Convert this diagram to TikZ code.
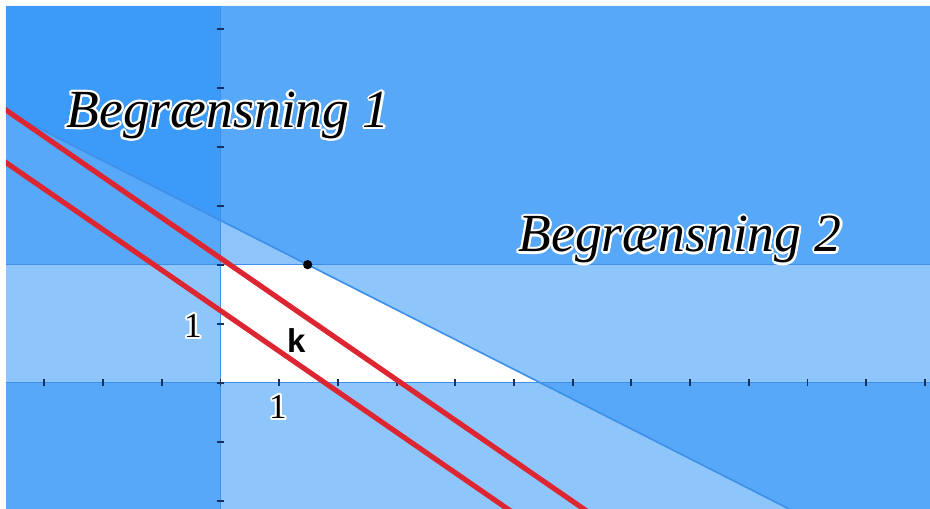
\documentclass[tikz,border=0pt]{standalone}
\usepackage{fontspec}
\setmainfont{Liberation Serif}
\newfontfamily\ksans{Liberation Sans}
\usepackage{contour}
\contourlength{1pt}
\usetikzlibrary{calc}
\definecolor{skygge}{RGB}{35,142,249}
\definecolor{akse}{RGB}{62,144,232}
\definecolor{merkefarge}{RGB}{20,50,100}
\definecolor{maal}{RGB}{222,38,50}
\tikzset{
  forbudt/.style={fill=skygge,fill opacity=.51},
  grense/.style={draw=akse,line width=.8pt},
  maallinje/.style={draw=maal,line width=2.5pt},
  merke/.style={draw=merkefarge,line width=.9pt},
  overskrift/.style={font=\fontsize{26}{26}\selectfont\itshape,inner sep=0pt,anchor=base},
  tall/.style={font=\fontsize{17}{17}\selectfont},
}

\begin{document}
\begin{tikzpicture}[x=1cm,y=1.005cm]
\useasboundingbox[fill=white] (-3.756,-2.141) rectangle (12.087,6.486);
% tegneomraadet
\coordinate (SV) at (-3.654,-2.141);
\coordinate (NO) at (12.087,6.385);
% endepunkter for maallinjene
\coordinate (a1) at (-4,4.858);
\coordinate (a2) at (6.71,-2.5);
\coordinate (c1) at (-4,3.968);
\coordinate (c2) at (5.415,-2.5);
\begin{scope}
\clip (SV) rectangle (NO);
\fill[forbudt] (SV) rectangle (0,6.385);   % x<0
\fill[forbudt] (SV) rectangle (12.087,0);  % y<0
\fill[forbudt] (-3.654,2) rectangle (NO);  % Begraensning 2
\fill[forbudt] (-3.654,4.595) -- (12.087,-3.354) -- (NO) -- (-3.654,6.385) -- cycle; % Begraensning 1
\draw[grense] (-3.654,4.595) -- (12.087,-3.354);
\draw[grense] (-3.654,2) -- (12.087,2);
\draw[grense] (-3.654,0) -- (12.087,0);
\draw[grense] (0,-2.141) -- (0,6.385);
\foreach \x in {-3,...,12} \draw[merke] (\x,-.055) -- (\x,.055);
\foreach \y in {-2,...,6} \draw[merke] (-.055,\y) -- (.055,\y);
\draw[maallinje] (a1) -- (a2);
\draw[maallinje] (c1) -- (c2);
\end{scope}
\node[circle,fill=black,inner sep=0pt,minimum size=4.5pt] (hjorne) at (1.485,2) {};
\node[overskrift] (beg1) at (0.13,4.32) {\contour{white}{Begrænsning 1}};
\node[overskrift] (beg2) at (7.83,2.215) {\contour{white}{Begrænsning 2}};
\node[tall] (enx) at (0.98,-0.43) {\contour{white}{1}};
\node[tall] (eny) at (-0.47,0.94) {\contour{white}{1}};
\node[font=\ksans\bfseries\fontsize{16}{16}\selectfont] (k) at (1.29,0.72) {k};
\end{tikzpicture}
\end{document}
